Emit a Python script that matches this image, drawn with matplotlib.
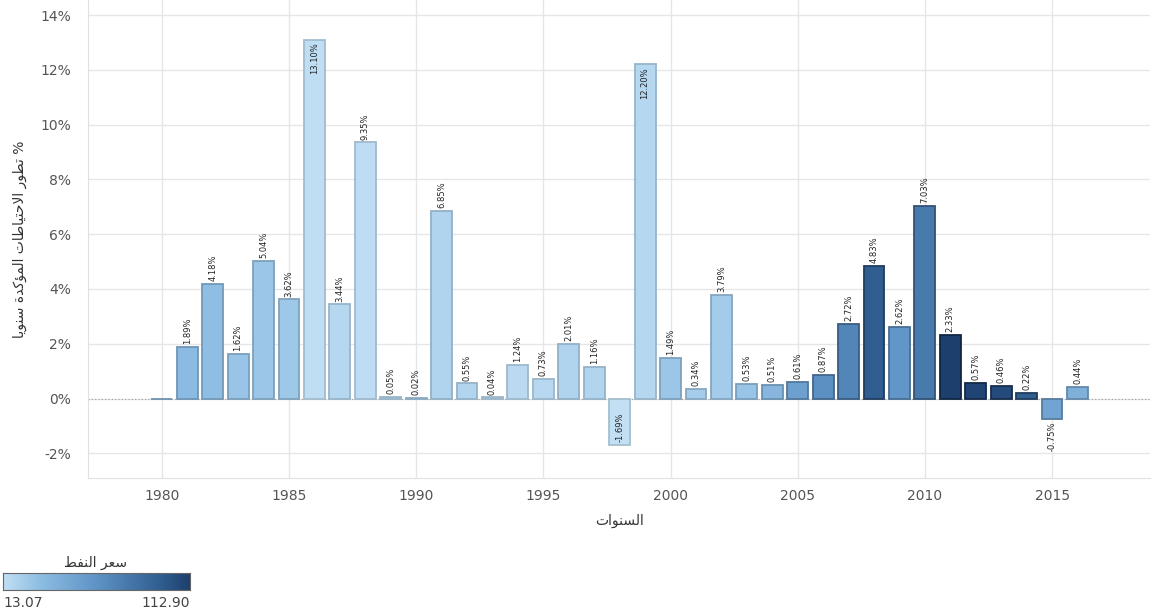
import matplotlib
matplotlib.use('Agg')
import matplotlib.pyplot as plt
import matplotlib.colors as mcolors
import numpy as np


years = list(range(1980, 2017))
growth = [0.0, 1.89, 4.18, 1.62, 5.04, 3.62, 13.10, 3.44, 9.35, 0.05,
          0.02, 6.85, 0.55, 0.04, 1.24, 0.73, 2.01, 1.16, -1.69, 12.20,
          1.49, 0.34, 3.79, 0.53, 0.51, 0.61, 0.87, 2.72, 4.83, 2.62,
          7.03, 2.33, 0.57, 0.46, 0.22, -0.75, 0.44]
oil_price = [36.0, 34.5, 32.5, 29.0, 28.0, 27.0, 14.0, 18.0, 15.0, 18.0,
             23.0, 20.0, 19.0, 17.0, 16.0, 17.0, 20.0, 19.0, 13.07, 18.0,
             28.0, 24.0, 25.0, 29.0, 38.0, 54.0, 65.0, 72.0, 97.0, 61.0,
             79.0, 112.90, 110.0, 107.0, 97.0, 51.0, 42.0]
yticks = [-2, 0, 2, 4, 6, 8, 10, 12, 14]
xticks = [1980, 1985, 1990, 1995, 2000, 2005, 2010, 2015]

ylabel_ar = '% تطور الاحتياطات المؤكدة سنويا'
xlabel_ar = 'السنوات'
legend_ar = 'سعر النفط'


# petit "reshaper" arabe: formes contextuelles + ordre visuel
FORMS = {
    'ا': ('\uFE8D', '\uFE8E', None, None),
    'ة': ('\uFE93', '\uFE94', None, None),
    'ت': ('\uFE95', '\uFE96', '\uFE97', '\uFE98'),
    'ح': ('\uFEA1', '\uFEA2', '\uFEA3', '\uFEA4'),
    'د': ('\uFEA9', '\uFEAA', None, None),
    'ر': ('\uFEAD', '\uFEAE', None, None),
    'س': ('\uFEB1', '\uFEB2', '\uFEB3', '\uFEB4'),
    'ط': ('\uFEC1', '\uFEC2', '\uFEC3', '\uFEC4'),
    'ع': ('\uFEC9', '\uFECA', '\uFECB', '\uFECC'),
    'ف': ('\uFED1', '\uFED2', '\uFED3', '\uFED4'),
    'ك': ('\uFED9', '\uFEDA', '\uFEDB', '\uFEDC'),
    'ل': ('\uFEDD', '\uFEDE', '\uFEDF', '\uFEE0'),
    'م': ('\uFEE1', '\uFEE2', '\uFEE3', '\uFEE4'),
    'ن': ('\uFEE5', '\uFEE6', '\uFEE7', '\uFEE8'),
    'و': ('\uFEED', '\uFEEE', None, None),
    'ؤ': ('\uFE85', '\uFE86', None, None),
    'ي': ('\uFEF1', '\uFEF2', '\uFEF3', '\uFEF4'),
    'لا': ('\uFEFB', '\uFEFC', None, None),
}


def ar(text):
    # regroupe lam + alef
    units = []
    i = 0
    while i < len(text):
        if text[i] == 'ل' and i + 1 < len(text) and text[i + 1] == 'ا':
            units.append('لا')
            i += 2
        else:
            units.append(text[i])
            i += 1
    out = []
    for k, u in enumerate(units):
        if u not in FORMS:
            out.append(u)
            continue
        prev = units[k - 1] if k > 0 else None
        nxt = units[k + 1] if k + 1 < len(units) else None
        join_prev = prev in FORMS and FORMS[prev][2] is not None
        join_next = FORMS[u][2] is not None and nxt in FORMS
        iso, fin, ini, med = FORMS[u]
        if join_prev and join_next:
            out.append(med)
        elif join_prev:
            out.append(fin)
        elif join_next:
            out.append(ini)
        else:
            out.append(iso)
    return ''.join(out)[::-1]


cmap = mcolors.LinearSegmentedColormap.from_list(
    'tab_blue', [(0.0, '#c2dff4'), (0.2, '#8dbde3'), (0.5, '#5f93c6'),
                 (0.85, '#2f5d8f'), (1.0, '#1d3f6e')])
norm = mcolors.Normalize(vmin=min(oil_price), vmax=max(oil_price))
fill = [cmap(norm(p)) for p in oil_price]
edge = [tuple(np.array(c[:3]) * (0.85 - 0.25 * norm(p))) for c, p in zip(fill, oil_price)]

fig = plt.figure(figsize=(11.54, 6.12), dpi=100)
ax = fig.add_axes([88 / 1154, 1 - 478 / 612, 1062 / 1154, 478 / 612])

ax.bar(years, growth, width=0.82, color=fill, edgecolor=edge, linewidth=1.3, zorder=3)
ax.axhline(0, color='#999999', linestyle=(0, (1, 2)), linewidth=0.8, zorder=2)

for x, v in zip(years, growth):
    if v == 0:
        continue
    lab = '%.2f%%' % v
    if v > 11:
        ax.annotate(lab, (x, v), xytext=(0, -2), textcoords='offset points',
                    rotation=90, ha='center', va='top', fontsize=6, color='#222222', zorder=4)
    elif v < -1:
        ax.annotate(lab, (x, v), xytext=(0, 2), textcoords='offset points',
                    rotation=90, ha='center', va='bottom', fontsize=6, color='#222222', zorder=4)
    elif v < 0:
        ax.annotate(lab, (x, v), xytext=(0, -2), textcoords='offset points',
                    rotation=90, ha='center', va='top', fontsize=6, color='#222222', zorder=4)
    else:
        ax.annotate(lab, (x, v), xytext=(0, 2), textcoords='offset points',
                    rotation=90, ha='center', va='bottom', fontsize=6, color='#222222', zorder=4)

ax.set_xlim(1977.1, 2018.85)
ax.set_ylim(-2.9, 14.55)
ax.set_yticks(yticks)
ax.set_yticklabels(['%d%%' % t for t in yticks])
ax.set_xticks(xticks)
ax.tick_params(length=0, labelsize=10, labelcolor='#555555', pad=12)
ax.tick_params(axis='x', pad=8)
ax.grid(True, color='#e6e6e6', linewidth=1, zorder=0)
for s in ['top', 'right']:
    ax.spines[s].set_visible(False)
for s in ['left', 'bottom']:
    ax.spines[s].set_color('#e0e0e0')

ax.set_xlabel(ar(xlabel_ar), fontsize=10, color='#333333', labelpad=8)
ax.set_ylabel(ar(ylabel_ar), fontsize=10, color='#333333', labelpad=10)

# légende de couleur
cax = fig.add_axes([3 / 1154, 1 - 590 / 612, 187 / 1154, 17 / 612])
grad = np.linspace(0, 1, 256).reshape(1, -1)
cax.imshow(grad, aspect='auto', cmap=cmap)
cax.set_xticks([])
cax.set_yticks([])
for s in cax.spines.values():
    s.set_color('#666666')
fig.text(96 / 1154, 1 - 563 / 612, ar(legend_ar), ha='center', va='center',
         fontsize=10, color='#333333')
fig.text(3 / 1154, 1 - 603 / 612, '%.2f' % min(oil_price), ha='left', va='center',
         fontsize=10, color='#444444')
fig.text(190 / 1154, 1 - 603 / 612, '%.2f' % max(oil_price), ha='right', va='center',
         fontsize=10, color='#444444')

fig.savefig('out.png', dpi=100)
